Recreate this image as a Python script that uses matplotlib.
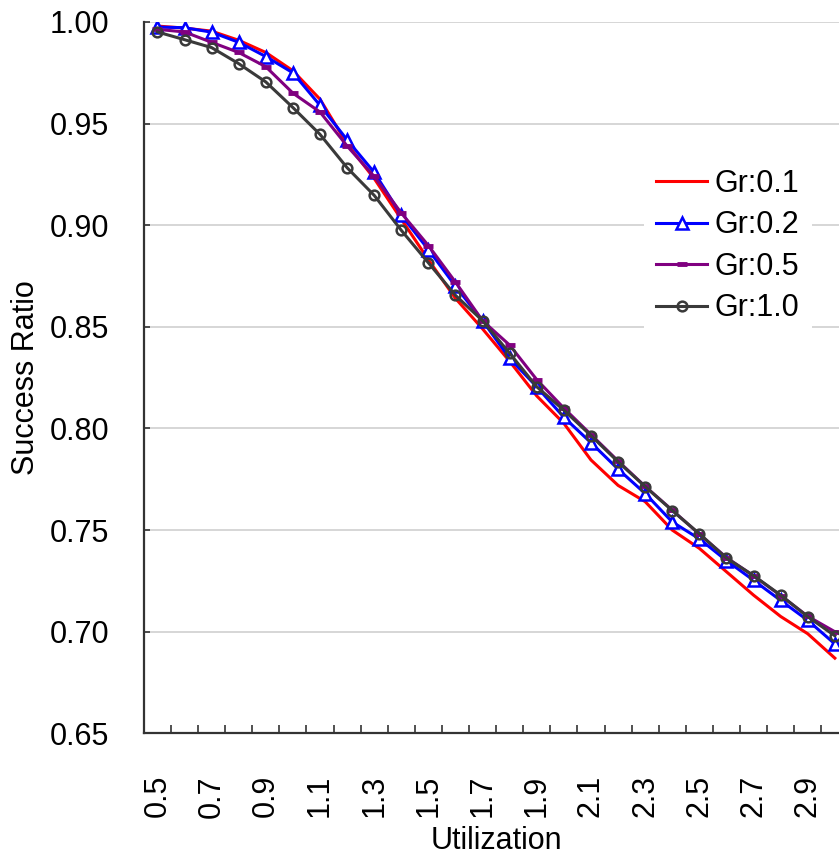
import matplotlib
matplotlib.use("Agg")
import matplotlib.pyplot as plt
from matplotlib.ticker import FixedLocator, FormatStrFormatter

plt.rcParams["font.family"] = ["Liberation Sans", "DejaVu Sans"]

# utilization categories
util = [0.5, 0.6, 0.7, 0.8, 0.9, 1.0, 1.1, 1.2, 1.3, 1.4, 1.5, 1.6, 1.7,
        1.8, 1.9, 2.0, 2.1, 2.2, 2.3, 2.4, 2.5, 2.6, 2.7, 2.8, 2.9, 3.0]
tick_labels = ["0.5", "0.7", "0.9", "1.1", "1.3", "1.5", "1.7",
               "1.9", "2.1", "2.3", "2.5", "2.7", "2.9"]

# success ratio per granularity
gr01 = [0.998, 0.997, 0.9955, 0.991, 0.985, 0.976, 0.962, 0.940, 0.923,
        0.903, 0.883, 0.864, 0.849, 0.833, 0.816, 0.8025, 0.7845, 0.772,
        0.764, 0.750, 0.741, 0.7295, 0.718, 0.7075, 0.699, 0.687]
gr02 = [0.9975, 0.9972, 0.995, 0.990, 0.983, 0.975, 0.959, 0.942, 0.926,
        0.905, 0.888, 0.870, 0.853, 0.8345, 0.8205, 0.8055, 0.793, 0.780,
        0.768, 0.754, 0.7457, 0.735, 0.7253, 0.7154, 0.7056, 0.694]
gr05 = [0.9964, 0.9951, 0.990, 0.985, 0.978, 0.965, 0.9557, 0.939, 0.924,
        0.906, 0.890, 0.872, 0.853, 0.841, 0.824, 0.810, 0.797, 0.784,
        0.7715, 0.7598, 0.748, 0.7365, 0.7275, 0.7178, 0.7076, 0.700]
gr10 = [0.9951, 0.9913, 0.9874, 0.9795, 0.9705, 0.9579, 0.9447, 0.9283,
        0.9147, 0.8975, 0.8815, 0.8655, 0.853, 0.837, 0.8205, 0.809,
        0.7965, 0.7836, 0.7714, 0.7596, 0.7482, 0.7362, 0.7276, 0.718,
        0.7074, 0.698]

fig = plt.figure(figsize=(8.39, 8.56), dpi=100)
# plot area runs past the right edge of the picture, as in the original
ax = fig.add_axes([0.1715, 0.1433, 0.8397, 0.831])

lw = 2.2
ax.plot(util, gr01, color="#ff0000", lw=lw, label="Gr:0.1")
ax.plot(util, gr02, color="#0000ff", lw=lw, marker="^", ms=8, mew=1.8,
        mfc="white", label="Gr:0.2")
ax.plot(util, gr05, color="#800080", lw=lw, marker="_", ms=7, mew=3.5,
        label="Gr:0.5")
ax.plot(util, gr10, color="#3a3a3a", lw=lw, marker="o", ms=7, mew=1.8,
        mfc="none", label="Gr:1.0")

ax.set_xlim(0.45, 3.05)
ax.set_ylim(0.65, 1.00)

ax.xaxis.set_major_locator(FixedLocator([float(t) for t in tick_labels]))
ax.set_xticklabels(tick_labels, rotation=90)
ax.xaxis.set_minor_locator(FixedLocator([u + 0.05 for u in util[:-1]]))
ax.tick_params(axis="x", which="major", length=0, pad=30, labelsize=22)
ax.tick_params(axis="x", which="minor", direction="in", length=6,
               width=1.2, color="#333333")

ax.set_yticks([0.65, 0.70, 0.75, 0.80, 0.85, 0.90, 0.95, 1.00])
ax.yaxis.set_major_formatter(FormatStrFormatter("%.2f"))
ax.tick_params(axis="y", direction="in", length=4.5, width=1.2,
               color="#333333", pad=25, labelsize=22)

ax.grid(axis="y", color="#d0d0d0", lw=1.2)
ax.set_axisbelow(True)

for s in ["top", "right"]:
    ax.spines[s].set_visible(False)
for s in ["left", "bottom"]:
    ax.spines[s].set_color("#333333")
    ax.spines[s].set_linewidth(1.6)

ax.set_xlabel("Utilization", fontsize=22, labelpad=6)
ax.set_ylabel("Success Ratio", fontsize=22, labelpad=6)

leg = ax.legend(loc="center", bbox_to_anchor=(728 / 839, 1 - 246 / 856),
                bbox_transform=fig.transFigure, fontsize=22, frameon=True,
                fancybox=False, edgecolor="none", facecolor="white",
                framealpha=1, handlelength=1.67, handletextpad=0.25,
                labelspacing=0.38, borderpad=0.4)

fig.savefig("out.png", dpi=100)
